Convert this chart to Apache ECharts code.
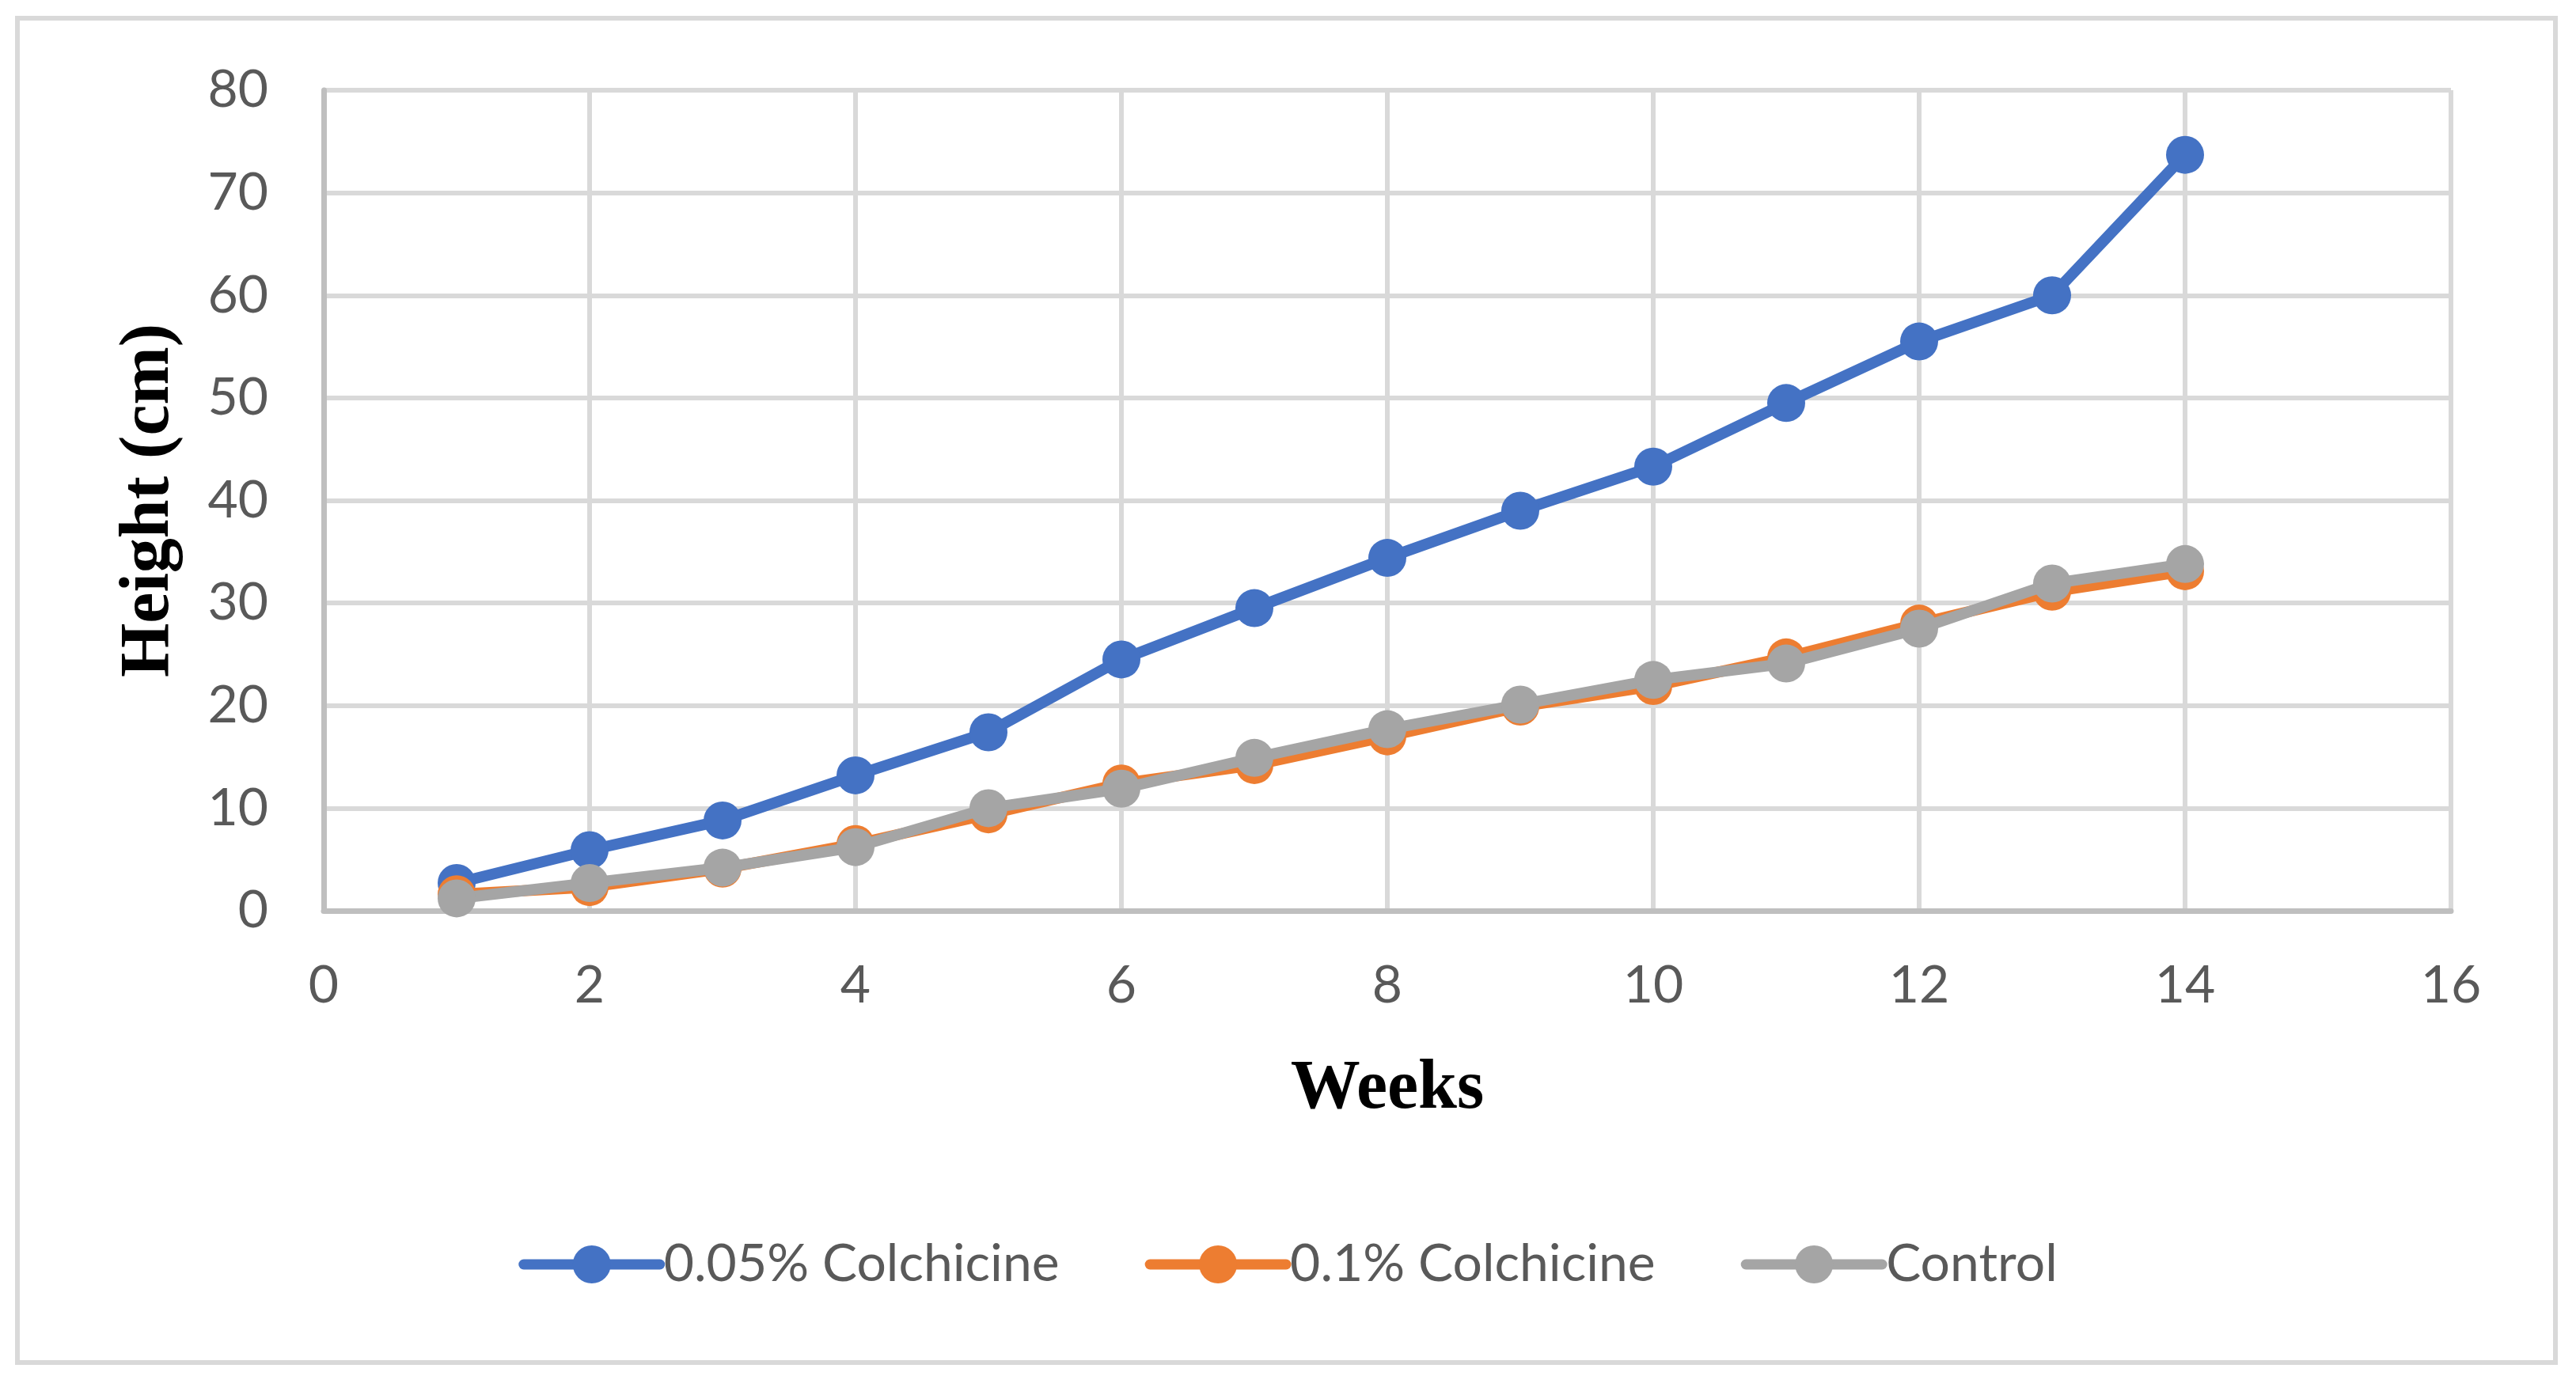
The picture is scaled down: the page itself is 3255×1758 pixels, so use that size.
<!DOCTYPE html>
<html>
<head>
<meta charset="utf-8">
<script src="https://cdn.jsdelivr.net/npm/echarts@6/dist/echarts.min.js"></script>
<style>
html,body{margin:0;padding:0;background:#fff;}
#chart{width:3255px;height:1758px;}
</style>
</head>
<body>
<div id="chart"></div>
<script>
const weeks = [1,2,3,4,5,6,7,8,9,10,11,12,13,14];
const colchicine005 = [2.7, 5.9, 8.8, 13.2, 17.4, 24.5, 29.5, 34.4, 39.0, 43.3, 49.5, 55.5, 60.0, 73.7];
const colchicine01 = [1.6, 2.3, 4.1, 6.5, 9.4, 12.4, 14.2, 17.0, 19.9, 21.9, 24.7, 28.0, 31.1, 33.1];
const control = [1.2, 2.7, 4.2, 6.2, 10.0, 11.9, 14.9, 17.7, 20.1, 22.5, 24.1, 27.5, 31.9, 33.8];
const seriesNames = ['0.05% Colchicine', '0.1% Colchicine', 'Control'];
const seriesColors = ['#4472C4', '#ED7D31', '#A5A5A5'];
const xTitle = 'Weeks';
const yTitle = 'Height (cm)';

const allData = [colchicine005, colchicine01, control];
function pairs(vals){ return weeks.map((w,i)=>[w, vals[i]]); }

const chart = echarts.init(document.getElementById('chart'));
const labelFont = { fontFamily: 'Lato', fontSize: 66, color: '#595959' };
const titleFont = { fontFamily: 'Liberation Serif', fontWeight: 'bold', fontSize: 88, color: '#000000' };

chart.setOption({
  animation: false,
  backgroundColor: '#ffffff',
  graphic: [{
    type: 'rect',
    shape: { x: 22, y: 23, width: 3207, height: 1699 },
    style: { fill: 'none', stroke: '#d9d9d9', lineWidth: 6 },
    silent: true, z: -1
  }],
  grid: { left: 409, right: 158, top: 114, bottom: 607, containLabel: false },
  legend: {
    data: seriesNames,
    left: 'center',
    top: 1560,
    itemWidth: 172,
    itemHeight: 60,
    itemGap: 108,
    lineStyle: { width: 13, cap: 'round' },
    textStyle: labelFont
  },
  xAxis: {
    type: 'value', min: 0, max: 16, interval: 2,
    name: xTitle, nameLocation: 'middle', nameGap: 182,
    nameTextStyle: titleFont,
    axisLine: { show: true, onZero: false, lineStyle: { color: '#bfbfbf', width: 7 } },
    axisTick: { show: false },
    axisLabel: Object.assign({ margin: 62 }, labelFont),
    splitLine: { show: true, lineStyle: { color: '#d9d9d9', width: 6 } }
  },
  yAxis: {
    type: 'value', min: 0, max: 80, interval: 10,
    name: yTitle, nameLocation: 'middle', nameGap: 176, nameRotate: 90,
    nameTextStyle: titleFont,
    axisLine: { show: true, lineStyle: { color: '#bfbfbf', width: 7 } },
    axisTick: { show: false },
    axisLabel: Object.assign({ margin: 70 }, labelFont),
    splitLine: { show: true, lineStyle: { color: '#d9d9d9', width: 6 } }
  },
  series: seriesNames.map((name, i) => ({
    name: name,
    type: 'line',
    data: pairs(allData[i]),
    symbol: 'circle',
    symbolSize: 48,
    showSymbol: true,
    color: seriesColors[i],
    itemStyle: { color: seriesColors[i] },
    lineStyle: { color: seriesColors[i], width: 14, cap: 'round', join: 'round' },
    z: 2 + i
  }))
});
</script>
</body>
</html>
